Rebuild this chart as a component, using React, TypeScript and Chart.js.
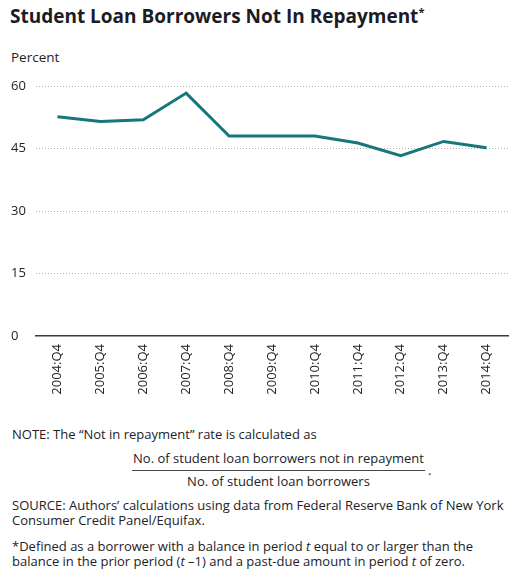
import React, { useEffect, useRef } from "react";
import { Chart, registerables } from "chart.js";

Chart.register(...registerables);

const categories = [
  "2004:Q4", "2005:Q4", "2006:Q4", "2007:Q4", "2008:Q4", "2009:Q4",
  "2010:Q4", "2011:Q4", "2012:Q4", "2013:Q4", "2014:Q4",
];
const notInRepayment = [52.6, 51.5, 51.9, 58.3, 48.0, 48.0, 48.0, 46.3, 43.3, 46.7, 45.2];
const yTicks = [0, 15, 30, 45, 60];

const FONT = "'Open Sans', 'Noto Sans', sans-serif";
const TEAL = "#16787a";
const TEXT = "#222228";

export default function App() {
  const ref = useRef<HTMLCanvasElement | null>(null);

  useEffect(() => {
    if (!ref.current) return;
    const chart = new Chart(ref.current, {
      type: "line",
      data: {
        labels: categories,
        datasets: [
          {
            data: notInRepayment,
            borderColor: TEAL,
            borderWidth: 3,
            pointRadius: 0,
            tension: 0,
            fill: false,
          },
        ],
      },
      options: {
        animation: false,
        responsive: false,
        maintainAspectRatio: false,
        layout: { padding: { left: 11, top: 16, right: 4, bottom: 0 } },
        plugins: { legend: { display: false }, tooltip: { enabled: false } },
        scales: {
          x: {
            type: "category",
            offset: true,
            grid: { display: false, drawTicks: false },
            border: { display: true, color: "#3a3a3a", width: 1.5 },
            ticks: {
              color: TEXT,
              font: { family: FONT, size: 13 },
              minRotation: 90,
              maxRotation: 90,
              padding: 8,
              autoSkip: false,
            },
            afterFit: (scale: any) => {
              scale.height = 74;
            },
          },
          y: {
            min: 0,
            max: 60,
            afterBuildTicks: (scale: any) => {
              scale.ticks = yTicks.map((v) => ({ value: v }));
            },
            grid: {
              drawTicks: false,
              color: (ctx: any) => (ctx.tick && ctx.tick.value === 0 ? "rgba(0,0,0,0)" : "#b0b0b0"),
              lineWidth: 1,
            },
            border: { display: false, dash: [1, 2] },
            ticks: {
              color: TEXT,
              font: { family: FONT, size: 13 },
              crossAlign: "far",
              padding: 0,
            },
            afterFit: (scale: any) => {
              scale.width = 25;
            },
          },
        },
      },
    });
    return () => chart.destroy();
  }, []);

  const p: React.CSSProperties = { position: "absolute", margin: 0, whiteSpace: "nowrap" };

  return (
    <div
      style={{
        position: "fixed",
        left: 0,
        top: 0,
        width: 512,
        height: 579,
        background: "#fff",
        fontFamily: FONT,
        color: TEXT,
        overflow: "hidden",
      }}
    >
      <div style={{ ...p, left: 10, top: 3, fontSize: 19, fontWeight: 700, color: "#1c1c24" }}>
        Student Loan Borrowers Not In Repayment<sup style={{ fontSize: 11 }}>*</sup>
      </div>
      <div style={{ ...p, left: 11, top: 48, fontSize: 13.5 }}>Percent</div>
      <canvas
        ref={ref}
        width={512}
        height={340}
        style={{ position: "absolute", left: 0, top: 70, width: 512, height: 340 }}
      />
      <div style={{ ...p, left: 12, top: 425, fontSize: 13 }}>
        NOTE: The “Not in repayment” rate is calculated as
      </div>
      <div style={{ ...p, left: 132, top: 449, width: 293, textAlign: "center", fontSize: 13 }}>
        No. of student loan borrowers not in repayment
      </div>
      <div style={{ position: "absolute", left: 132, top: 470, width: 293, height: 0, borderTop: "1.2px solid #444" }} />
      <div style={{ ...p, left: 428, top: 461, fontSize: 13 }}>.</div>
      <div style={{ ...p, left: 132, top: 472, width: 293, textAlign: "center", fontSize: 13 }}>
        No. of student loan borrowers
      </div>
      <div style={{ ...p, left: 12, top: 498, fontSize: 13, lineHeight: "15px" }}>
        SOURCE: Authors’ calculations using data from Federal Reserve Bank of New York
        <br />
        Consumer Credit Panel/Equifax.
      </div>
      <div style={{ ...p, left: 12, top: 539, fontSize: 13, lineHeight: "15px" }}>
        *Defined as a borrower with a balance in period <i>t</i> equal to or larger than the
        <br />
        balance in the prior period (<i>t</i> –1) and a past-due amount in period <i>t</i> of zero.
      </div>
    </div>
  );
}
